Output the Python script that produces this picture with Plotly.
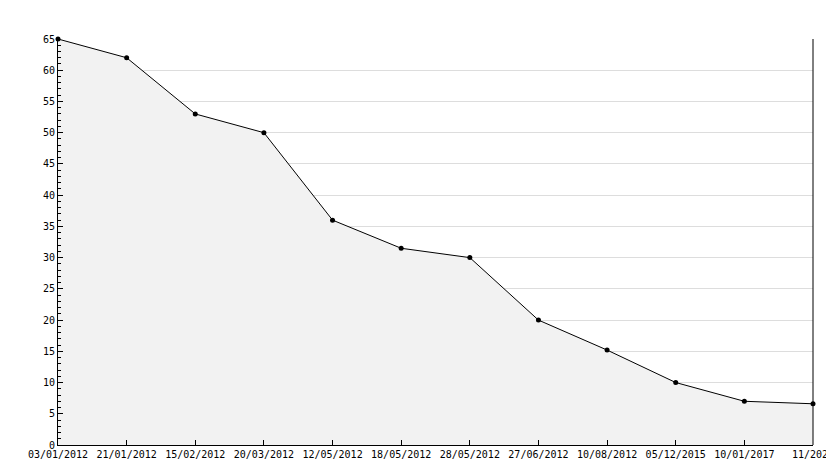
import plotly.graph_objects as go

dates = ["03/01/2012","21/01/2012","15/02/2012","20/03/2012","12/05/2012","18/05/2012",
         "28/05/2012","27/06/2012","10/08/2012","05/12/2015","10/01/2017","11/2025"]
values = [65, 62, 53, 50, 36, 31.5, 30, 20, 15.2, 10, 7, 6.6]
xs = list(range(len(dates)))

fig = go.Figure(go.Scatter(x=xs, y=values, mode="lines+markers", fill="tozeroy",
    fillcolor="#f2f2f2", line=dict(color="black", width=1),
    marker=dict(color="black", size=5, symbol="circle"), cliponaxis=False))
font = dict(family="DejaVu Sans Mono", size=10, color="black")
fig.update_layout(width=834, height=468,
    margin=dict(l=50, r=29, t=31, b=31, autoexpand=False),
    plot_bgcolor="white", paper_bgcolor="white", showlegend=False, font=font,
    xaxis=dict(range=[0, 11], tickvals=xs, ticktext=dates, showgrid=False,
               showline=True, linecolor="black", mirror=False, ticks="inside",
               ticklen=5, tickcolor="black", zeroline=False, automargin=False),
    yaxis=dict(range=[0, 65], dtick=5, showgrid=True, gridcolor="#dddddd",
               showline=True, linecolor="black", ticks="inside", ticklen=5,
               tickcolor="black", zeroline=False, automargin=False,
               minor=dict(dtick=1, ticks="inside", ticklen=3, tickcolor="black", showgrid=False)))
fig.add_shape(type="line", xref="paper", yref="paper", x0=1, x1=1, y0=0, y1=1,
              line=dict(color="black", width=1))
fig.write_html("out.html")
